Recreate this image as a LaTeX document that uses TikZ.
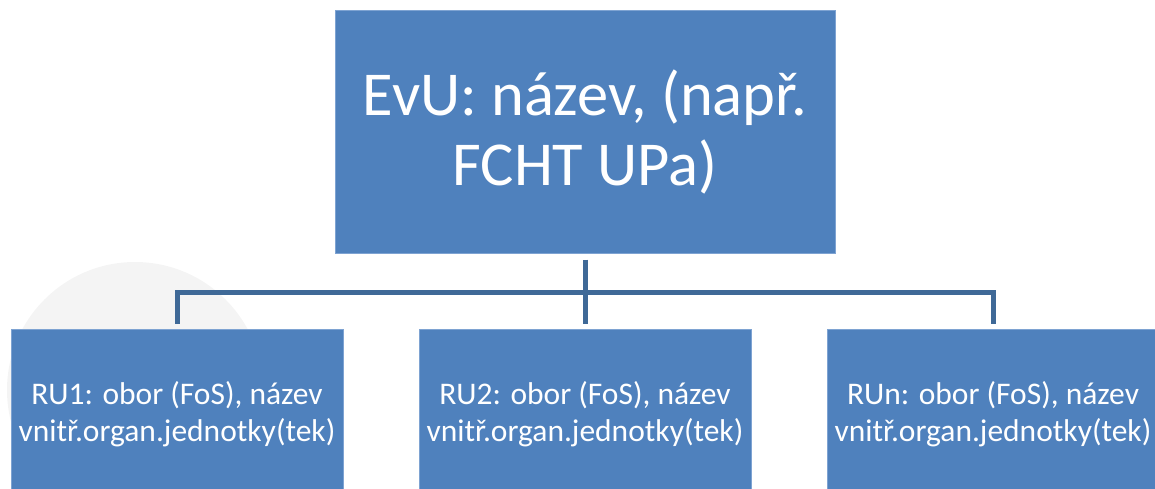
\documentclass[tikz,border=0pt]{standalone}
\usepackage{fontspec}
\setmainfont{Carlito}
\definecolor{boxfill}{HTML}{4F81BD}
\definecolor{boxline}{HTML}{7EA3D2}
\definecolor{conncol}{HTML}{3F6997}
\definecolor{ghost}{HTML}{F4F4F4}
\tikzset{
  box/.style={rectangle, fill=boxfill, draw=boxline, line width=1pt, text=white, align=center, inner sep=0pt},
  topbox/.style={box, minimum width=500pt, minimum height=242pt, font=\fontsize{62.5}{70}\selectfont},
  subbox/.style={box, minimum width=332pt, minimum height=170pt, font=\fontsize{31.5}{36.5}\selectfont},
  conn/.style={draw=conncol, line width=5pt}
}
\begin{document}
\begin{tikzpicture}[x=1pt,y=1pt]
\useasboundingbox (0,0) rectangle (1155,-489);
\clip (0,0) rectangle (1155,-489);
\fill[ghost] (135,-390) circle (128);
\node[topbox] (top) at (585,-132) {EvU: název, (např.\\FCHT UPa)};
\node[subbox] (ru1) at (177,-414) {RU1: obor (FoS), název\\vnitř.organ.jednotky(tek)};
\node[subbox] (ru2) at (585,-414) {RU2: obor (FoS), název\\vnitř.organ.jednotky(tek)};
\node[subbox] (ru3) at (993,-414) {RUn: obor (FoS), název\\vnitř.organ.jednotky(tek)};
\coordinate (hub) at (585,-292);
\draw[conn, shorten <=6pt] (top.south) -- (hub);
\draw[conn, shorten >=5pt] (hub) -- (ru2.north);
\draw[conn, shorten <=5pt, shorten >=5pt] (ru1.north) |- (hub) -| (ru3.north);
\end{tikzpicture}
\end{document}
